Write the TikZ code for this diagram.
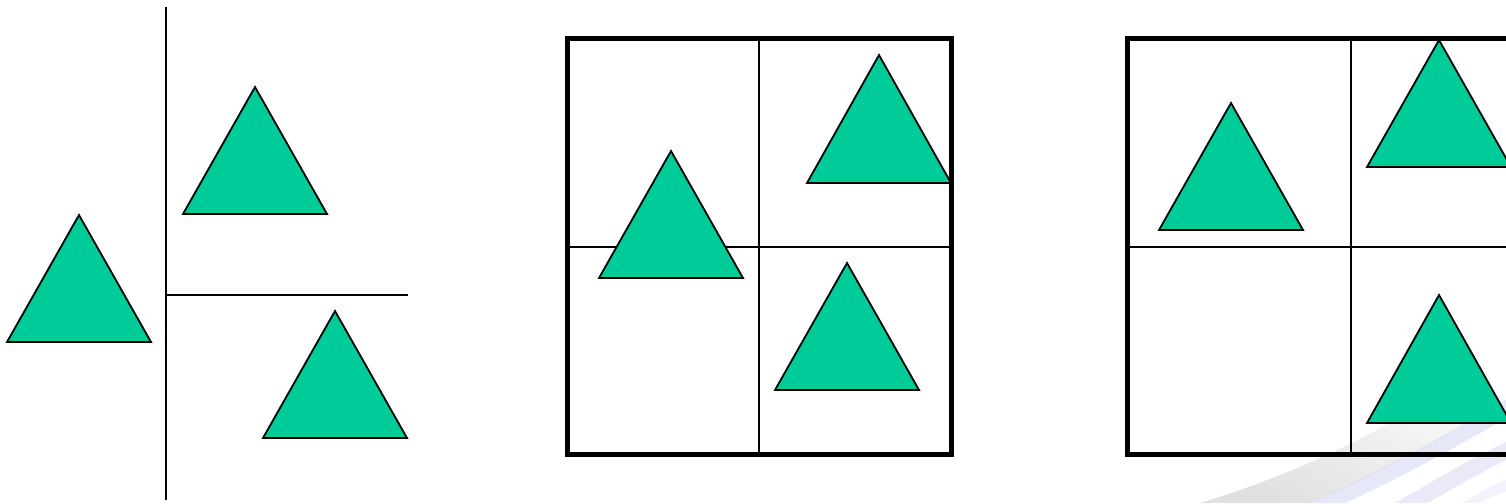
\documentclass[tikz,border=0pt]{standalone}
\usetikzlibrary{fadings}
\definecolor{trigreen}{RGB}{0,204,153}
\definecolor{lav}{RGB}{200,202,238}
\tikzset{
  tri/.style={fill=trigreen,draw=black,line width=1.8pt,line join=miter},
  thinline/.style={draw=black,line width=2pt},
  frame/.style={draw=black,line width=5pt},
}
\newcommand{\mytri}[3]{% apex x, apex y, base y
  \path[tri] (#1,#2) -- (#1+72,#3) -- (#1-72,#3) -- cycle;}
\begin{document}
\begin{tikzpicture}[x=1pt,y=-1pt]
\useasboundingbox (0,0) rectangle (1506,503);
\clip (0,0) rectangle (1506,503);
\fill[white] (0,0) rectangle (1506,503);
% background swoosh
\shade[left color=white,right color=gray!40,shading angle=-30,opacity=0.6]
  (1200,503) .. controls (1310,470) and (1420,415) .. (1506,345)
  -- (1506,400) .. controls (1440,440) and (1370,478) .. (1310,503) -- cycle;
\fill[lav,opacity=0.45]
  (1310,503) .. controls (1385,470) and (1450,432) .. (1506,400)
  -- (1506,418) .. controls (1460,445) and (1400,478) .. (1345,503) -- cycle;
\fill[lav,opacity=0.4]
  (1395,503) .. controls (1435,480) and (1472,458) .. (1506,442)
  -- (1506,460) .. controls (1478,474) and (1450,490) .. (1428,503) -- cycle;
\fill[lav!70,opacity=0.35]
  (1462,503) .. controls (1476,495) and (1490,487) .. (1506,480)
  -- (1506,492) .. controls (1496,495) and (1487,499) .. (1480,503) -- cycle;
% left panel
\coordinate (vtop) at (166,7);
\coordinate (vbot) at (166,500);
\coordinate (hl) at (166,295);
\coordinate (hr) at (408,295);
\draw[thinline] (vtop) -- (vbot);
\draw[thinline] (hl) -- (hr);
\mytri{79}{215}{342}
\mytri{255}{87}{214}
\mytri{335}{311}{438}
% middle panel
\draw[thinline] (759,39) -- (759,454);
\draw[thinline] (567,247) -- (951,247);
\draw[frame] (567,39) rectangle (951,454);
\mytri{671}{151}{278}
\mytri{879}{55}{183}
\mytri{847}{263}{390}
% right panel
\draw[thinline] (1351,39) -- (1351,454);
\draw[thinline] (1127,247) -- (1520,247);
\draw[frame] (1127,39) rectangle (1540,454);
\mytri{1231}{103}{230}
\mytri{1439}{40}{167}
\mytri{1439}{295}{423}
\end{tikzpicture}
\end{document}
